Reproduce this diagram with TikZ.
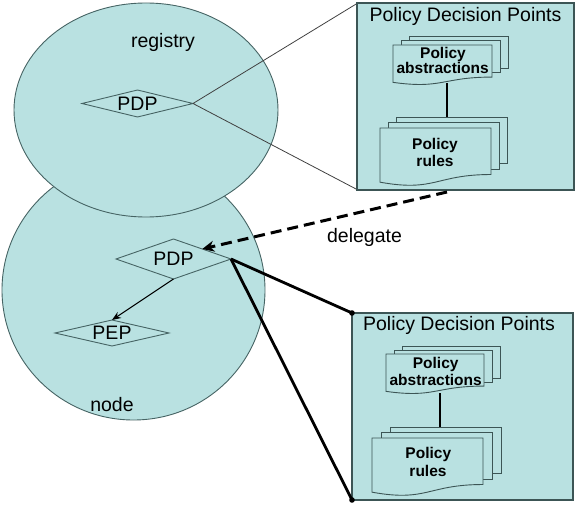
\documentclass[tikz,border=0pt]{standalone}
\usepackage{fontspec}
\setmainfont{Liberation Sans}
\usetikzlibrary{shapes.geometric,arrows.meta}
\definecolor{tealfill}{RGB}{185,225,225}
\definecolor{edgec}{RGB}{70,100,100}
\definecolor{boxedge}{RGB}{60,85,85}
\newcommand\docstack[6]{%
 \filldraw[docpage] ({#1+2*#5},{#2-2*#6}) rectangle ({#1+2*#5+#3},{#2-2*#6+0.802*#4});
 \filldraw[docpage] ({#1+#5},{#2-#6}) rectangle ({#1+#5+#3},{#2-#6+0.802*#4});
 \filldraw[docpage] (#1,#2) -- ({#1+#3},#2) -- ({#1+#3},{#2+0.802*#4}) .. controls ({#1+0.5*#3},{#2+0.802*#4}) and ({#1+0.5*#3},{#2+1.107*#4}) .. (#1,{#2+0.934*#4}) -- cycle;}
\begin{document}
\begin{tikzpicture}[x=1pt,y=-1pt,
  ell/.style={ellipse, fill=tealfill, draw=edgec, line width=0.9pt, inner sep=0pt, outer sep=0pt},
  dia/.style={diamond, aspect=4, fill=tealfill, draw=edgec, line width=0.9pt, inner sep=0pt, outer sep=0pt, font=\fontsize{19.5}{22}\selectfont},
  pdpbox/.style={rectangle, fill=tealfill, draw=boxedge, line width=1.6pt, inner sep=0pt, outer sep=0pt},
  docpage/.style={fill=tealfill, draw=boxedge, line width=0.9pt},
  lbl/.style={anchor=base, inner sep=0pt, font=\fontsize{19.5}{22}\selectfont},
  doclbl/.style={anchor=base, inner sep=0pt, font=\fontsize{15.5}{17}\selectfont\bfseries},
  thinln/.style={draw=black!75, line width=0.8pt},
  heavyln/.style={line width=2.8pt},
  docconn/.style={line width=1.3pt},
]
\useasboundingbox (0,0) rectangle (576,505);
% ellipses
\node[ell, minimum width=263pt, minimum height=260pt] (nd) at (133.5,290) {};
\node[ell, minimum width=264pt, minimum height=214pt] (reg) at (146,110) {};
% diamonds
\node[dia, minimum width=111pt, minimum height=27pt] (pdpa) at (137.5,103.5) {PDP};
\node[dia, minimum width=115pt, minimum height=40pt] (pdpb) at (173.5,259) {PDP};
\node[dia, minimum width=114pt, minimum height=26pt] (pep) at (112,333) {PEP};
% thin lines to top box
\draw[thinln] (pdpa.east) -- (465.5-108.5,3.5);
\draw[thinln] (pdpa.east) -- (465.5-108.5,189.5);
% boxes
\node[pdpbox, minimum width=217pt, minimum height=187pt] (boxa) at (465.5,96.5) {};
\node[pdpbox, minimum width=221pt, minimum height=187pt] (boxb) at (462.5,406.5) {};
% documents
\docstack{393}{45}{99}{40}{8}{4.5}
\docstack{380}{128}{111}{58}{8}{5.5}
\docstack{386}{354}{98}{40}{8}{4}
\docstack{372}{438}{111}{58}{9}{5.5}
\coordinate (abota) at (447,83);
\coordinate (rtopa) at (447,117);
\coordinate (abotb) at (440,393);
\coordinate (rtopb) at (440,427);
\draw[docconn] (abota) -- (rtopa);
\draw[docconn] (abotb) -- (rtopb);
% texts
\node[lbl] (ttla) at (465.5,21.7) {Policy Decision Points};
\node[lbl] (ttlb) at (459,330.7) {Policy Decision Points};
\node[lbl] (treg) at (163,48) {registry};
\node[lbl] (tnode) at (112,411.7) {node};
\node[lbl] (tdel) at (364.5,242.7) {delegate};
\node[doclbl] (ta1) at (443,58.3) {Policy};
\node[doclbl] (ta2) at (442.7,74) {abstractions};
\node[doclbl] (tr1) at (435,150) {Policy};
\node[doclbl] (tr2) at (435,166.7) {rules};
\node[doclbl] (tb1) at (435.7,368.3) {Policy};
\node[doclbl] (tb2) at (435.7,385.3) {abstractions};
\node[doclbl] (tc1) at (428.3,458.3) {Policy};
\node[doclbl] (tc2) at (428,476.7) {rules};
% connectors
\draw[heavyln] (pdpb.east) -- (boxb.north west);
\draw[heavyln] (pdpb.east) -- (boxb.south west);
\fill (boxb.north west) circle (2.8pt);
\fill (boxb.south west) circle (2.8pt);
\draw[line width=1.1pt, -{Stealth[length=9pt,width=7pt]}] (pdpb.south) -- (pep.north);
\coordinate (dst) at (447,192);
\draw[line width=3pt, dash pattern=on 11pt off 6pt, -{Stealth[length=12pt,width=11pt]}] (dst) -- (pdpb.north east);
\end{tikzpicture}
\end{document}
